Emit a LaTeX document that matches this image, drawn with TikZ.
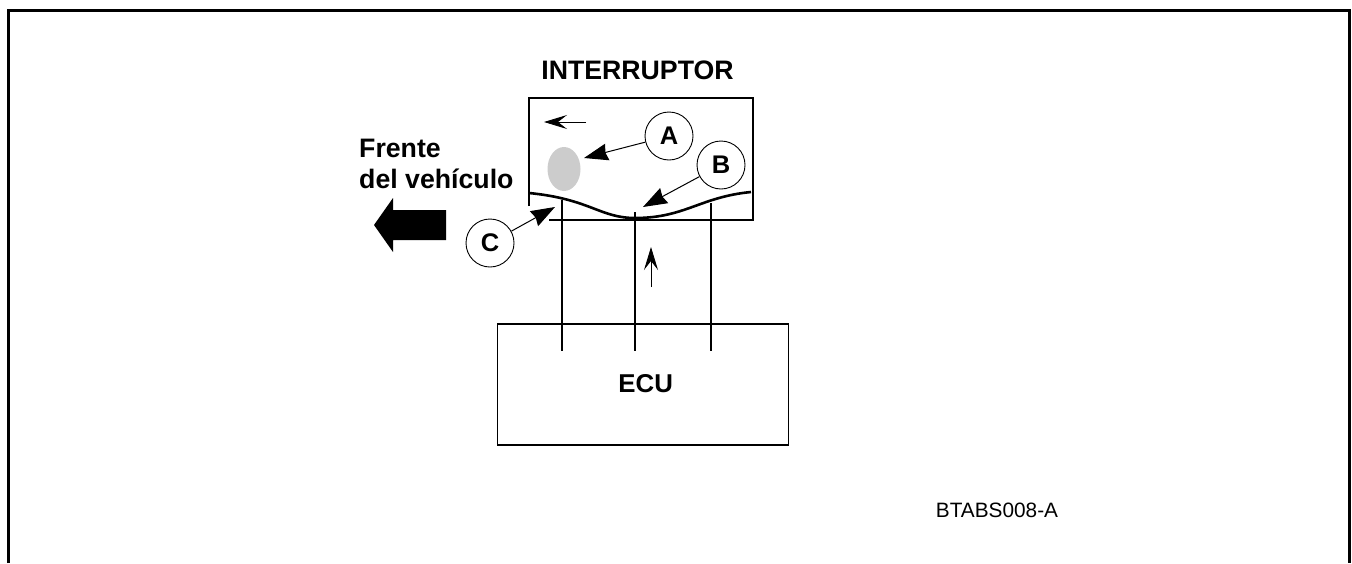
\documentclass[tikz,border=0pt]{standalone}
\usepackage{fontspec}
\setmainfont{Liberation Sans}
\usetikzlibrary{arrows.meta}
\tikzset{
  x=1pt,y=-1pt,
  frameline/.style={draw=black,line width=2.4pt},
  boxline/.style={draw=black,line width=1.9pt},
  wire/.style={draw=black,line width=1.9pt},
  callout/.style={draw=black,circle,line width=0.9pt,minimum size=48pt,inner sep=0pt,font=\bfseries\fontsize{25.5}{25.5}\selectfont},
  leader/.style={draw=black,line width=1pt,-{Stealth[length=24pt,width=17pt,inset=2pt]}},
  thinarrow/.style={draw=black,line width=0.9pt,-{Stealth[length=23pt,width=14pt,inset=9pt]}},
  lab/.style={font=\bfseries\fontsize{26.7}{31.7}\selectfont,inner sep=0pt},
}
\begin{document}
\begin{tikzpicture}
\useasboundingbox (0,0) rectangle (1352,563);
\draw[frameline] (8.3,563) -- (8.3,10.5) -- (1349.5,10.5) -- (1349.5,563);
% interruptor box
\draw[boxline] (529,206) -- (529,98) -- (753,98) -- (753,220) -- (549,220);
% membrane
\draw[draw=black,line width=2.6pt] (529,193) .. controls (590,199) and (600,218) .. (635,218) .. controls (685,218) and (700,197) .. (751,192);
\fill[black!20] (564,169) ellipse [x radius=16.5,y radius=22];
% nodes
\node[callout] (A) at (669,136) {A};
\node[callout] (B) at (721,165) {B};
\node[callout] (C) at (490,243) {C};
\coordinate (Atip) at (584,158);
\coordinate (Btip) at (643,207);
\coordinate (Ctip) at (555,207);
\draw[leader] (A) -- (Atip);
\draw[leader] (B) -- (Btip);
\draw[leader] (C) -- (Ctip);
% ECU
\node[boxline,draw,minimum width=291pt,minimum height=121pt,inner sep=0pt,outer sep=0pt] (ecu) at (643,384.5) {};
\node[inner sep=0pt,font=\bfseries\fontsize{25.8}{25.8}\selectfont] (ecutext) at (645.7,384) {ECU};
\coordinate (w1t) at (562,200);
\coordinate (w1b) at (562,351);
\coordinate (w2t) at (635,212);
\coordinate (w2b) at (635,351);
\coordinate (w3t) at (711,203);
\coordinate (w3b) at (711,351);
\draw[wire] (w1t) -- (w1b);
\draw[wire] (w2t) -- (w2b);
\draw[wire] (w3t) -- (w3b);
% small arrows
\coordinate (s1a) at (586,122);
\coordinate (s1b) at (544,122);
\coordinate (s2a) at (651,287);
\coordinate (s2b) at (651,247);
\draw[thinarrow] (s1a) -- (s1b);
\draw[thinarrow] (s2a) -- (s2b);
% big arrow
\fill[black] (374,225) -- (393,198) -- (393,210) -- (446,210) -- (446,240) -- (393,240) -- (393,252) -- cycle;
% labels
\node[lab] (title) at (637.5,70.7) {INTERRUPTOR};
\node[lab,anchor=north west,align=left] (front) at (359,138.5) {Frente\\del vehículo};
\node[font=\fontsize{20.8}{20.8}\selectfont,inner sep=0pt] (code) at (997,510) {BTABS008-A};
\end{tikzpicture}
\end{document}
